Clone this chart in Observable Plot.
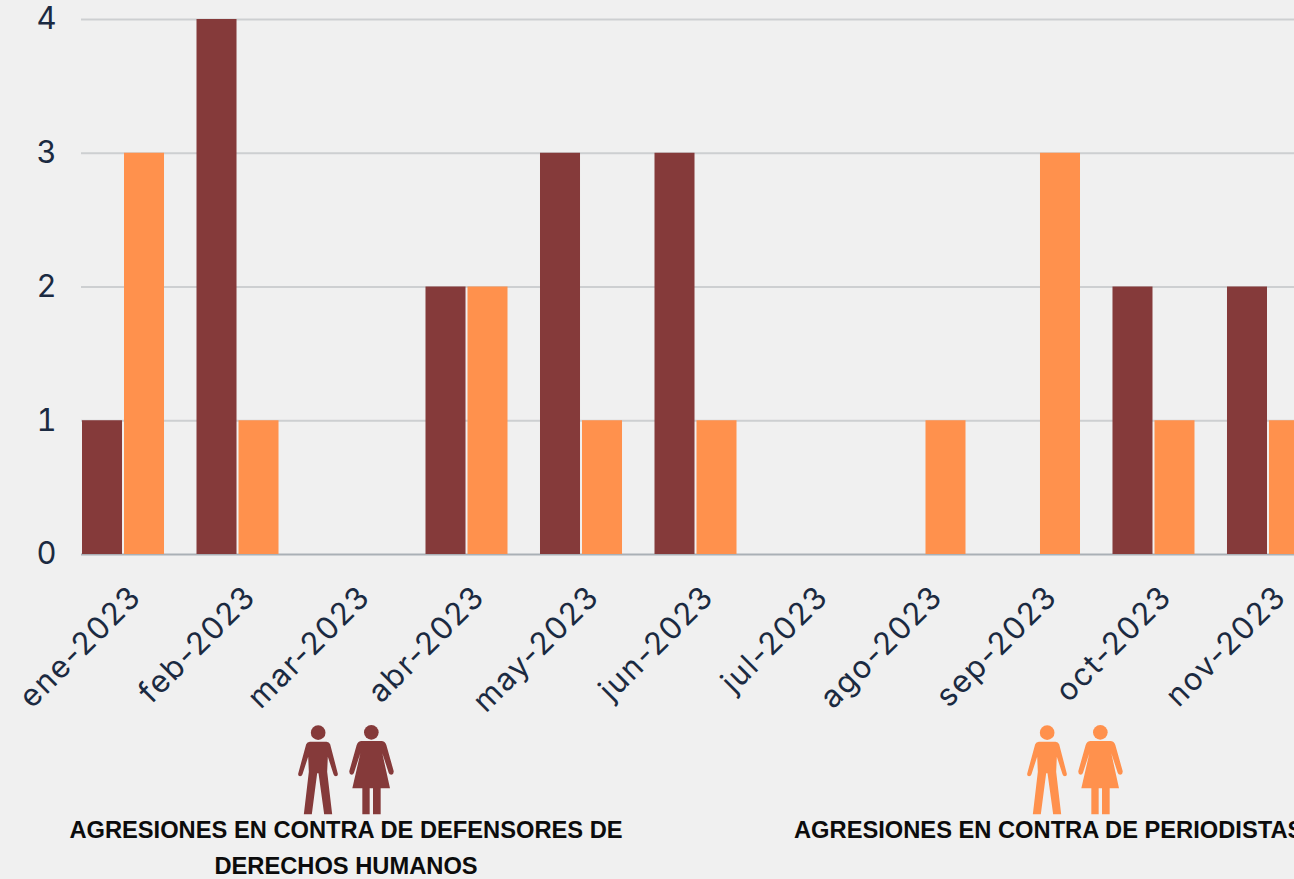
<!DOCTYPE html>
<html lang="es">
<head>
<meta charset="utf-8">
<script src="https://cdn.jsdelivr.net/npm/d3@7"></script>
<script src="https://cdn.jsdelivr.net/npm/@observablehq/plot@0.6"></script>
<style>
html,body{margin:0;padding:0;background:#f0f0f0;width:1294px;height:879px;overflow:hidden;position:relative}
#chart svg{display:block;background:#f0f0f0;overflow:hidden;max-width:none}
#chart svg text{font-family:"Inter","Open Sans",sans-serif}
#chart svg g[aria-label="x-axis tick label"] text{letter-spacing:1.6px}
.icons{position:absolute;top:725px;display:flex;gap:10px;height:90px}
.cap{position:absolute;top:812px;font:bold 23.7px/36px "Liberation Sans",Arial,sans-serif;color:#0c0c0c;text-align:center}
#i0{left:297px}#i1{left:1026px}
#c0{left:65px;width:562px}#c1{left:794px;width:540px;text-align:left}
</style>
</head>
<body>
<div id="chart"></div>
<div id="legend"></div>
<script>
const months = ["ene-2023","feb-2023","mar-2023","abr-2023","may-2023","jun-2023","jul-2023","ago-2023","sep-2023","oct-2023","nov-2023"];
const defensores = [1,4,0,2,3,3,0,0,0,2,2];
const periodistas = [3,1,0,2,1,1,0,1,3,1,1];
const yTicks = [0,1,2,3,4];
const colorDefensores = "#853a3a";
const colorPeriodistas = "#ff914d";
const captions = ["AGRESIONES EN CONTRA DE DEFENSORES DE DERECHOS HUMANOS","AGRESIONES EN CONTRA DE PERIODISTAS"];

const ink = "#1b2a41";

const plot = Plot.plot({
  width: 1309, height: 720,
  marginLeft: 81, marginRight: 0, marginTop: 19, marginBottom: 166,
  style: {background: "#f0f0f0", maxWidth: "none"},
  x: {type: "band", domain: months, paddingInner: 0.275, paddingOuter: 0, round: false, label: null},
  y: {domain: [0,4], label: null},
  marks: [
    Plot.ruleY([1,2,3,4], {stroke: "#cdcfd1", strokeWidth: 2}),
    Plot.ruleY([0], {stroke: "#aab0b6", strokeWidth: 2}),
    Plot.barY(months, {x: d => d, y: (d,i) => defensores[i], fill: colorDefensores, insetLeft: 1, insetRight: 42}),
    Plot.barY(months, {x: d => d, y: (d,i) => periodistas[i], fill: colorPeriodistas, insetLeft: 43}),
    Plot.axisY({ticks: yTicks, tickSize: 0, tickPadding: 25, tickFormat: d => d, fontSize: 31, fill: ink, label: null}),
    Plot.axisX({tickSize: 0, tickRotate: -45, tickPadding: 37, dx: 13, fontSize: 31, fill: ink, label: null, textAnchor: "end", lineAnchor: "middle"})
  ]
});
document.getElementById("chart").append(plot);

const man = c => `<svg width="42" height="90" viewBox="0 0 125 270"><g fill="${c}"><circle cx="63" cy="23" r="22"/><path d="M38 50 L88 50 Q96 50 99 58 L122 146 Q123 154 116 154 Q111 154 109 148 L92 95 L90 140 L105 268 L81 268 L64 145 L60 145 L44 268 L20 268 L35 140 L33 95 L16 148 Q14 154 9 154 Q2 154 3 146 L27 58 Q30 50 38 50 Z"/></g></svg>`;
const woman = c => `<svg width="45" height="90" viewBox="0 0 135 270"><g fill="${c}"><circle cx="67" cy="22" r="22"/><path d="M38 48 H97 Q108 48 112 60 L134 138 Q135 148 127 149 Q121 149 119 143 L100 85 L123 190 H95 V268 H72 V190 H62 V268 H40 V190 H10 L34 85 L15 143 Q13 149 8 149 Q0 148 1 138 L23 60 Q27 48 38 48 Z"/></g></svg>`;

const legend = document.getElementById("legend");
[colorDefensores, colorPeriodistas].forEach((c,i) => {
  legend.insertAdjacentHTML("beforeend", `<div class="icons" id="i${i}">${man(c)}${woman(c)}</div><div class="cap" id="c${i}">${captions[i]}</div>`);
});
</script>
</body>
</html>
